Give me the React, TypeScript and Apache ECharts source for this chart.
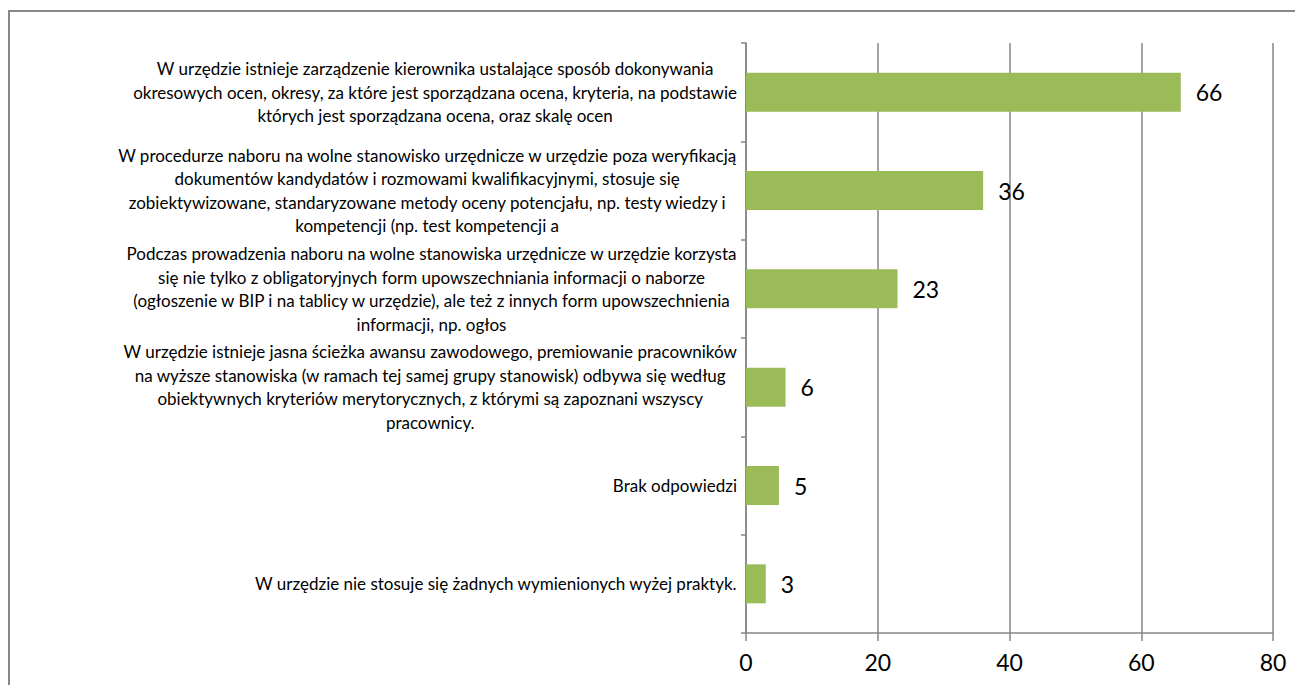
import React, { useEffect, useRef } from "react";
import * as echarts from "echarts";

const categories: string[] = [
  "W urzędzie istnieje zarządzenie kierownika ustalające sposób dokonywania\nokresowych ocen, okresy, za które jest sporządzana ocena, kryteria, na podstawie\nktórych jest sporządzana ocena, oraz skalę ocen",
  "W procedurze naboru na wolne stanowisko urzędnicze w urzędzie poza weryfikacją\ndokumentów kandydatów i rozmowami kwalifikacyjnymi, stosuje się\nzobiektywizowane, standaryzowane metody oceny potencjału, np. testy wiedzy i\nkompetencji (np. test kompetencji a",
  "Podczas prowadzenia naboru na wolne stanowiska urzędnicze w urzędzie korzysta\nsię nie tylko z obligatoryjnych form upowszechniania informacji o naborze\n(ogłoszenie w BIP i na tablicy w urzędzie), ale też z innych form upowszechnienia\ninformacji, np. ogłos",
  "W urzędzie istnieje jasna ścieżka awansu zawodowego, premiowanie pracowników\nna wyższe stanowiska (w ramach tej samej grupy stanowisk) odbywa się według\nobiektywnych kryteriów merytorycznych, z którymi są zapoznani wszyscy\npracownicy.",
  "Brak odpowiedzi",
  "W urzędzie nie stosuje się żadnych wymienionych wyżej praktyk.",
];

const values: number[] = [66, 36, 23, 6, 5, 3];

const xTicks = { min: 0, max: 80, interval: 20 };

const FONT = "Lato, 'Noto Sans', sans-serif";

export default function App() {
  const ref = useRef<HTMLDivElement>(null);
  useEffect(() => {
    if (!ref.current) return;
    const chart = echarts.init(ref.current, undefined, { renderer: "svg" });
    chart.setOption({
      animation: false,
      backgroundColor: "#ffffff",
      textStyle: { fontFamily: FONT },
      graphic: [
        {
          type: "rect",
          shape: { x: 1, y: 3, width: 1400, height: 1000 },
          style: { fill: "none", stroke: "#878787", lineWidth: 2 },
          silent: true,
        },
      ],
      grid: { left: 738, right: 30, top: 35, bottom: 52, containLabel: false },
      xAxis: {
        type: "value",
        min: xTicks.min,
        max: xTicks.max,
        interval: xTicks.interval,
        axisLine: { show: true, lineStyle: { color: "#868686", width: 1.5 } },
        axisTick: { show: true, length: 8, lineStyle: { color: "#868686", width: 1.5 } },
        splitLine: { show: true, lineStyle: { color: "#868686", width: 1.5 } },
        axisLabel: { fontSize: 23, color: "#000", margin: 17, fontFamily: FONT },
      },
      yAxis: {
        type: "category",
        inverse: true,
        data: categories,
        axisLine: { show: true, lineStyle: { color: "#868686", width: 1.5 } },
        axisTick: { show: true, length: 5, lineStyle: { color: "#868686", width: 1.5 } },
        splitLine: { show: false },
        axisLabel: {
          margin: 9,
          color: "#000",
          formatter: (v: string) =>
            v
              .split("\n")
              .map((l) => `{c|${l}}`)
              .join("\n"),
          rich: {
            c: {
              align: "center",
              fontSize: 17,
              lineHeight: 23.5,
              fontFamily: FONT,
              color: "#000",
            },
          },
        },
      },
      series: [
        {
          type: "bar",
          data: values,
          barWidth: 39,
          itemStyle: { color: "#9BBB59" },
          label: {
            show: true,
            position: "right",
            distance: 15,
            fontSize: 23,
            color: "#000",
            fontFamily: FONT,
          },
        },
      ],
    });
    return () => chart.dispose();
  }, []);
  return <div ref={ref} style={{ width: 1295, height: 677 }} />;
}
